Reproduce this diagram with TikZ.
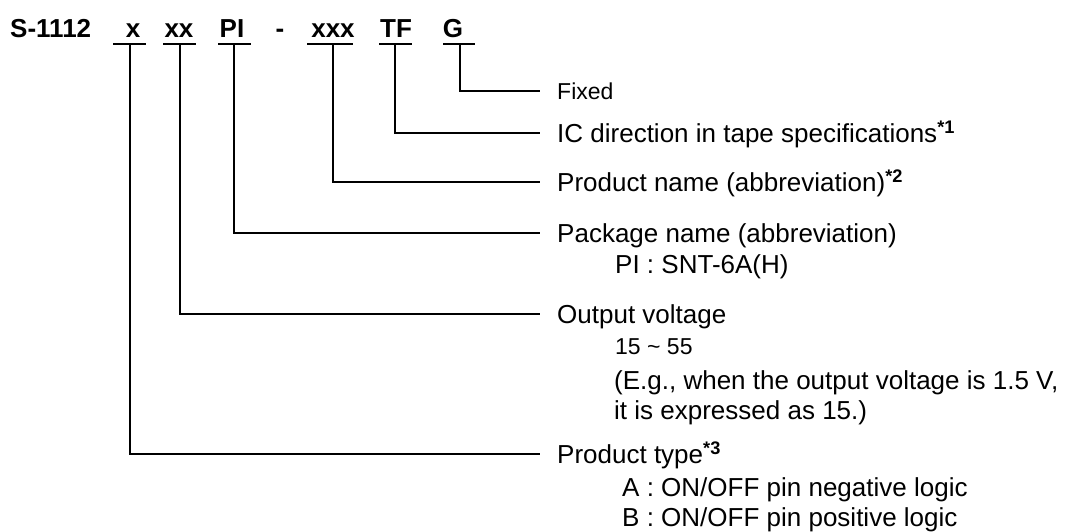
\documentclass[tikz,border=0pt]{standalone}
\usepackage{fontspec}
\setmainfont{Liberation Sans}
\usetikzlibrary{calc, positioning}
\tikzset{
  code/.style={font=\fontsize{26}{31}\selectfont\bfseries, inner sep=0pt, anchor=base},
  lbl/.style={font=\fontsize{26}{31}\selectfont, inner sep=0pt, text height=18.6pt, text depth=0pt, anchor=west},
  sml/.style={lbl, font=\fontsize{23}{28}\selectfont, text height=16.5pt},
  sub/.style={font=\fontsize{26}{31}\selectfont, inner sep=0pt, anchor=base west},
  subsml/.style={sub, font=\fontsize{23}{28}\selectfont},
  wire/.style={line width=1.7pt, black},
}
\newcommand{\fnote}[1]{\textsuperscript{\textbf{*#1}}}

\begin{document}
\begin{tikzpicture}[x=1pt, y=-1pt]
  \useasboundingbox (0,0) rectangle (1073,531);

  % product code
  \node[code, anchor=base west] (series) at (10,37) {S-1112};
  \node[code] (ctype) at (133,37) {x};
  \node[code] (cvolt) at (179,37) {xx};
  \node[code] (cpkg) at (232,37) {PI};
  \node[code] (cdash) at (280,37) {-};
  \node[code] (cname) at (333,37) {xxx};
  \node[code] (cdir) at (396,37) {TF};
  \node[code] (cfix) at (453,37) {G};

  % bars under the code
  \coordinate (btype) at (130,44);
  \coordinate (bvolt) at (180,44);
  \coordinate (bpkg) at (234,44);
  \coordinate (bname) at (333,44);
  \coordinate (bdir) at (395,44);
  \coordinate (bfix) at (460,44);
  \foreach \b/\l/\r in {btype/17/16, bvolt/17/16, bpkg/16/17, bname/26/20, bdir/16/17, bfix/17/15}
    \draw[wire] ([xshift=-\l pt]\b) -- ([xshift=\r pt]\b);

  % labels
  \node[sml] (fixed) at (557,91) {Fixed};
  \node[lbl] (dir) at (557,133) {IC direction in tape specifications\fnote{1}};
  \node[lbl] (pname) at (557,182) {Product name (abbreviation)\fnote{2}};
  \node[lbl] (pkg) at (557,233) {Package name (abbreviation)};
  \node[sub] (pkgpi) at ($(pkg.base west)+(58,31)$) {PI : SNT-6A(H)};
  \node[lbl] (vout) at (557,314) {Output voltage};
  \node[subsml] (vrange) at ($(vout.base west)+(58,31)$) {15 \textasciitilde{} 55};
  \node[sub] (vex1) at ($(vout.base west)+(57,66)$) {(E.g., when the output voltage is 1.5 V,};
  \node[sub] (vex2) at ($(vout.base west)+(57,96)$) {it is expressed as 15.)};
  \node[lbl] (ptype) at (557,454) {Product type\fnote{3}};
  \node[sub] (ptypea) at ($(ptype.base west)+(65,33)$) {A : ON/OFF pin negative logic};
  \node[sub] (ptypeb) at ($(ptype.base west)+(65,63)$) {B : ON/OFF pin positive logic};

  % connectors
  \draw[wire] (bfix) |- ([xshift=-17pt]fixed.west);
  \draw[wire] (bdir) |- ([xshift=-17pt]dir.west);
  \draw[wire] (bname) |- ([xshift=-17pt]pname.west);
  \draw[wire] (bpkg) |- ([xshift=-17pt]pkg.west);
  \draw[wire] (bvolt) |- ([xshift=-17pt]vout.west);
  \draw[wire] (btype) |- ([xshift=-17pt]ptype.west);
\end{tikzpicture}
\end{document}
